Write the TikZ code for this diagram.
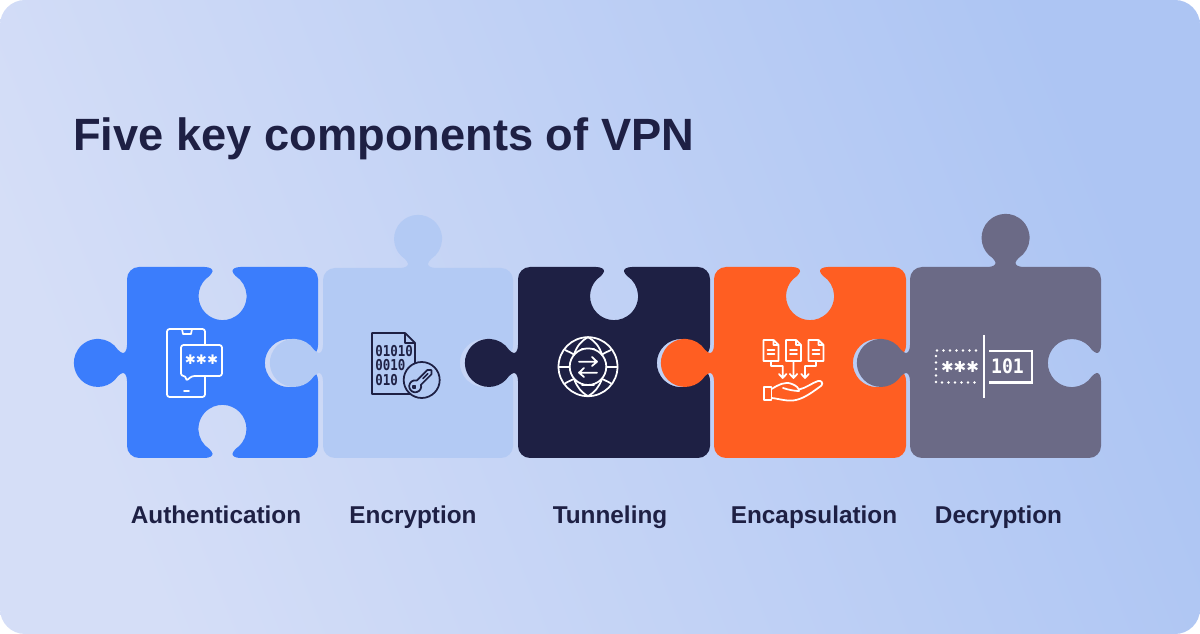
\documentclass[tikz,border=0pt]{standalone}
\usepackage{fontspec}
\setmainfont{Liberation Sans}
\newfontfamily\monofont{DejaVu Sans Mono}
\newfontfamily\symfont{DejaVu Sans}

\definecolor{bgleft}{HTML}{D5DEF7}
\definecolor{bgright}{HTML}{ADC5F3}
\definecolor{blueP}{HTML}{3B7DFC}
\definecolor{lightP}{HTML}{B3CAF4}
\definecolor{navyP}{HTML}{1E2044}
\definecolor{orangeP}{HTML}{FF5E22}
\definecolor{greyP}{HTML}{6B6A86}

\tikzset{
  iconline/.style={draw=#1, line width=1pt, line join=round, line cap=round},
  iconline/.default=white,
  caption/.style={text=navyP, font=\fontsize{13.85pt}{16pt}\selectfont\bfseries, anchor=base},
  filetext/.style={text=navyP, inner sep=0, anchor=west, font=\monofont\bfseries\fontsize{7.1pt}{8pt}\selectfont},
}

% a knob (+1) or a hole (-1) on an edge, #1 is its middle, #2 the edge direction
\newcommand{\knob}[3]{{[shift={(#1)},rotate=#2,yscale=#3]
  -- (-18,0) .. controls (-13,0) and (-9.5,2) .. (-10,4.5)
  .. controls (-10.3,6) and (-11.5,7) .. (-13,9)
  arc[start angle=237,end angle=-57,radius=24]
  .. controls (11.5,7) and (10.3,6) .. (10,4.5)
  .. controls (9.5,2) and (13,0) .. (18,0)}}
% a rounded corner at #1
\newcommand{\bend}[2]{{[shift={(#1)},rotate=#2]
  -- (-12,0) arc[start angle=90,end angle=0,radius=12]}}

\begin{document}
\begin{tikzpicture}[x=0.02cm,y=0.02cm]
\useasboundingbox (0,0) rectangle (1200,-634);
\shade[left color=bgleft, right color=bgright, shading angle=112, rounded corners=0.5cm] (0,0) rectangle (1200,-634);

\node[text=navyP, font=\fontsize{25.75pt}{30pt}\selectfont\bfseries, anchor=base west, inner sep=0] (title) at (73,-151) {Five key components of VPN};

% the five pieces
\fill[blueP] (150,-267) \knob{222.5,-267}{0}{-1} \bend{318,-267}{0} \knob{318,-363}{-90}{-1} \bend{318,-458}{-90} \knob{222.5,-458}{180}{-1} \bend{127,-458}{180} \knob{127,-363}{90}{1} \bend{127,-267}{90} -- cycle;
\fill[lightP] (340,-268) \knob{418,-268}{0}{1} \bend{513,-268}{0} \knob{513,-363}{-90}{-1} \bend{513,-458}{-90} \bend{323,-458}{180} \knob{323,-363}{90}{1} \bend{323,-268}{90} -- cycle;
\fill[navyP] (540,-267) \knob{614,-267}{0}{-1} \bend{710,-267}{0} \knob{710,-363}{-90}{-1} \bend{710,-458}{-90} \bend{518,-458}{180} \knob{518,-363}{90}{1} \bend{518,-267}{90} -- cycle;
\fill[orangeP] (740,-267) \knob{810,-267}{0}{-1} \bend{906,-267}{0} \knob{906,-363}{-90}{-1} \bend{906,-458}{-90} \bend{714,-458}{180} \knob{714,-363}{90}{1} \bend{714,-267}{90} -- cycle;
\fill[greyP] (930,-267) \knob{1005.5,-267}{0}{1} \bend{1101,-267}{0} \knob{1101,-363}{-90}{-1} \bend{1101,-458}{-90} \bend{910,-458}{180} \knob{910,-363}{90}{1} \bend{910,-267}{90} -- cycle;

% phone
\draw[iconline, rounded corners=0.05cm] (167,-329) rectangle (205,-397);
\draw[iconline] (182,-329) -- (183,-334) -- (191,-334) -- (192,-329);
\draw[iconline] (184,-391) -- (189,-391);
\filldraw[iconline, fill=blueP, rounded corners=0.05cm] (181,-345) -- (222,-345) -- (222,-376) -- (192,-376) -- (186,-381) -- (186,-376) -- (181,-376) -- cycle;
\node[text=white, inner sep=0, font=\symfont\fontsize{7.5pt}{8pt}\selectfont] (phonestars) at (201.5,-360) {✱✱✱};

% file and key
\draw[iconline=navyP] (405,-333) -- (372,-333) -- (372,-394) -- (415,-394) -- (415,-343) -- (405,-333) -- (405,-343) -- (415,-343);
\node[filetext] (fileA) at (375,-351) {\scalebox{1}[1.2]{01010}};
\node[filetext] (fileB) at (375,-365) {\scalebox{1}[1.2]{0010}};
\node[filetext] (fileC) at (375,-380) {\scalebox{1}[1.2]{010}};
\filldraw[iconline=navyP, fill=lightP] (421.7,-380) circle (18);
\begin{scope}[shift={(421.5,-380)},rotate=45]
\draw[iconline=navyP] (-3.7,3) -- (11,3) -- (14,0) -- (11,-3) -- (-3.7,-3) arc[start angle=-30,end angle=-330,radius=6];
\draw[iconline=navyP] (-10,0) circle (1.5);
\draw[iconline=navyP] (2,0) -- (9,0);
\end{scope}

% globe
\draw[iconline] (588,-366.7) circle (29.5);
\draw[iconline] (588,-366.7) circle (18.3);
\draw[iconline] (558.5,-366.7) -- (569.7,-366.7) (606.3,-366.7) -- (617.5,-366.7);
\draw[iconline] (588,-337.2) .. controls (581,-341) and (577,-346) .. (574,-354.5);
\draw[iconline] (588,-337.2) .. controls (595,-341) and (599,-346) .. (602,-354.5);
\draw[iconline] (588,-396.2) .. controls (581,-392) and (577,-387) .. (574,-378.9);
\draw[iconline] (588,-396.2) .. controls (595,-392) and (599,-387) .. (602,-378.9);
\draw[iconline] (565,-350) .. controls (569,-352) and (572,-353) .. (574,-354.5);
\draw[iconline] (611,-350) .. controls (607,-352) and (604,-353) .. (602,-354.5);
\draw[iconline] (565,-383.4) .. controls (569,-381) and (572,-380) .. (574,-378.9);
\draw[iconline] (611,-383.4) .. controls (607,-381) and (604,-380) .. (602,-378.9);
\draw[iconline] (582,-348.5) -- (594,-348.5) (582,-385) -- (594,-385);
\draw[iconline] (579,-361.7) -- (597,-361.7) (592,-357) -- (597,-361.7) -- (592,-366);
\draw[iconline] (597,-372.7) -- (579,-372.7) (584,-368) -- (579,-372.7) -- (584,-377);

% hand with files
\foreach \x in {763.5,786,808.5} {
  \draw[iconline] (\x+10,-340) -- (\x,-340) -- (\x,-361) -- (\x+15,-361) -- (\x+15,-345) -- (\x+10,-340) -- (\x+10,-345) -- (\x+15,-345);
  \draw[iconline] (\x+4,-350) -- (\x+11,-350) (\x+4,-354) -- (\x+11,-354);
}
\draw[iconline] (771,-361) -- (771,-366) -- (782.7,-366) -- (782.7,-378) (779,-374) -- (782.7,-378) -- (786.4,-374);
\draw[iconline] (793.5,-361) -- (793.5,-378) (789.8,-374) -- (793.5,-378) -- (797.2,-374);
\draw[iconline] (816,-361) -- (816,-366) -- (805,-366) -- (805,-378) (801.3,-374) -- (805,-378) -- (808.7,-374);
\draw[iconline] (764,-387) rectangle (771.5,-400);
\draw[iconline] (771.5,-389) .. controls (778,-385) and (785,-381) .. (792,-384) .. controls (796,-385.5) and (799,-388) .. (799,-391) .. controls (795,-391) and (789,-390) .. (783,-388);
\draw[iconline] (799,-389.5) .. controls (806,-388) and (812,-383) .. (818,-381) .. controls (821,-380) and (823.5,-383) .. (821.5,-385.5) .. controls (814,-391) and (805,-398) .. (796,-400) .. controls (788,-402) and (778,-398.5) .. (771.5,-398);

% decryption
\draw[white, line width=1.6pt, line cap=round, dash pattern=on 0pt off 3.7pt] (976,-350.5) -- (936,-350.5) -- (936,-382.5) -- (976,-382.5);
\node[text=white, inner sep=0, font=\symfont\fontsize{8.6pt}{11pt}\selectfont] (stars) at (960,-366.5) {✱✱✱};
\draw[white, line width=1.4pt] (984,-335) -- (984,-398);
\draw[white, line width=1.2pt] (989,-351) -- (1032,-351) -- (1032,-382.5) -- (989,-382.5);
\node[text=white, inner sep=0, font=\monofont\bfseries\fontsize{10.3pt}{11pt}\selectfont] (binary) at (1007.5,-366.7) {\scalebox{1}[1.1]{101}};

% captions
\node[caption] (authentication) at (216,-523.5) {Authentication};
\node[caption] (encryption) at (413,-523.5) {Encryption};
\node[caption] (tunneling) at (610,-523.5) {Tunneling};
\node[caption] (encapsulation) at (814,-523.5) {Encapsulation};
\node[caption] (decryption) at (998.5,-523.5) {Decryption};
\end{tikzpicture}
\end{document}
